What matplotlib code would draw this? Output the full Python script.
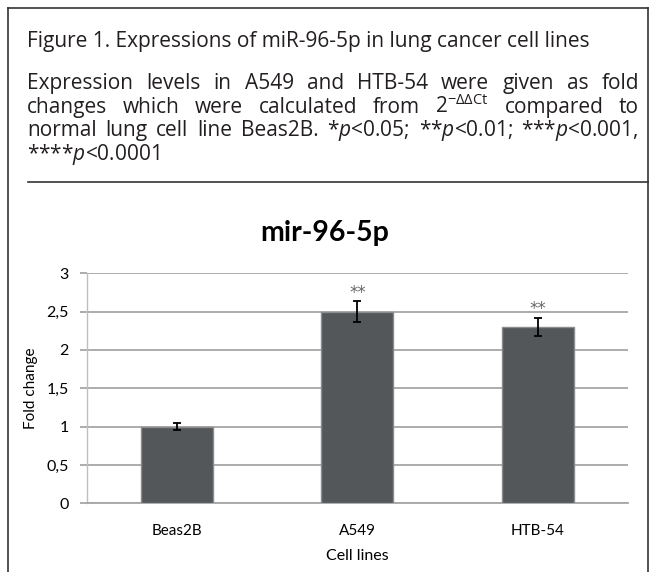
import matplotlib
matplotlib.use("Agg")
import matplotlib.pyplot as plt
from matplotlib.lines import Line2D

# data
cell_lines = ["Beas2B", "A549", "HTB-54"]
fold_change = [1.0, 2.5, 2.30]
fold_err = [0.045, 0.135, 0.12]
signif = ["", "**", "**"]

caption_title = "Figure 1. Expressions of miR-96-5p in lung cancer cell lines"
caption_lines = [
    "Expression levels in A549 and HTB-54 were given as fold",
    r"changes which were calculated from 2$^{\mathrm{-ΔΔCt}}$ compared to",
    r"normal lung cell line Beas2B. *$\mathit{p}$<0.05; **$\mathit{p}$<0.01; ***$\mathit{p}$<0.001,",
    r"****$\mathit{p}$<0.0001",
]

plt.rcParams["mathtext.fontset"] = "custom"
plt.rcParams["mathtext.rm"] = "Open Sans"
plt.rcParams["mathtext.it"] = "Open Sans:italic"

W, H = 649, 572
fig = plt.figure(figsize=(W / 100, H / 100), dpi=100)
renderer = fig.canvas.get_renderer()

def fx(px):
    return px / W

def fy(py):
    return 1 - py / H

txt_color = "#231f20"
cap_font = "Open Sans"
cap_size = 15.0

# outer frame and rule
fig.add_artist(Line2D([fx(8), fx(8)], [fy(8), 0], color="#333333", lw=1.2))
fig.add_artist(Line2D([fx(8), fx(648)], [fy(8), fy(8)], color="#333333", lw=1.2))
fig.add_artist(Line2D([fx(648), fx(648)], [fy(8), 0], color="#333333", lw=1.2))
fig.add_artist(Line2D([fx(28), 1], [fy(182), fy(182)], color="#333333", lw=1.2))

fig.text(fx(27), fy(47), caption_title, fontsize=cap_size, family=cap_font,
         color=txt_color, va="baseline", ha="left")

# justified caption lines (word by word, baseline aligned)
left_px, right_px = 27, 639
line_base = [89, 113, 136, 160]
space_w = (fig.text(0, 0, "a a", fontsize=cap_size, family=cap_font).get_window_extent(renderer).width
           - 2 * fig.text(0, 0, "a", fontsize=cap_size, family=cap_font).get_window_extent(renderer).width)
for a in fig.texts[-2:]:
    a.remove()
for i, line in enumerate(caption_lines):
    words = line.split(" ")
    arts = [fig.text(0, fy(line_base[i]), w, fontsize=cap_size, family=cap_font,
                     color=txt_color, va="baseline", ha="left") for w in words]
    widths = [a.get_window_extent(renderer).width for a in arts]
    if i == len(caption_lines) - 1 or len(words) == 1:
        gap = space_w
    else:
        gap = (right_px - left_px - sum(widths)) / (len(words) - 1)
    x = left_px
    for a, w in zip(arts, widths):
        a.set_x(fx(x))
        x += w + gap

# chart
chart_font = "Lato"
grid_c = "#a6a6a6"
ax = fig.add_axes([fx(86.7), fy(503.3), fx(628) - fx(86.7), fy(273.3) - fy(503.3)])
xpos = range(len(cell_lines))
ax.bar(xpos, fold_change, width=0.4, color="#53575a", edgecolor="#8c8c8c", linewidth=1.0, zorder=3)
ax.errorbar(xpos, fold_change, yerr=fold_err, fmt="none", ecolor="black",
            elinewidth=1.3, capsize=3.2, capthick=1.3, zorder=4)
for xi, v, e, s in zip(xpos, fold_change, fold_err, signif):
    if s:
        ax.text(xi, v + e + 0.11, s, ha="center", va="center", fontsize=12,
                family="DejaVu Sans", color="#666666")

ax.set_xlim(-0.5, 2.5)
ax.set_ylim(0, 3)
ax.set_yticks([0, 0.5, 1, 1.5, 2, 2.5, 3])
ax.set_yticklabels(["0", "0,5", "1", "1,5", "2", "2,5", "3"])
ax.set_xticks(list(xpos))
ax.set_xticklabels(cell_lines)
ax.yaxis.grid(True, color=grid_c, lw=1.3, zorder=0)
ax.set_axisbelow(True)
for sp in ["top", "right"]:
    ax.spines[sp].set_visible(False)
ax.spines["left"].set_color("#bfbfbf")
ax.spines["left"].set_linewidth(1.0)
ax.spines["bottom"].set_color(grid_c)
ax.spines["bottom"].set_linewidth(1.3)
ax.tick_params(axis="y", length=5, width=1.3, color=grid_c, pad=8,
               labelsize=11.5, labelcolor="black")
ax.tick_params(axis="x", length=0, pad=15, labelsize=11, labelcolor="black")
for lab in ax.get_xticklabels() + ax.get_yticklabels():
    lab.set_family(chart_font)
ax.set_xlabel("Cell lines", fontsize=11.5, family=chart_font, labelpad=8)
ax.set_ylabel("Fold change", fontsize=11, family=chart_font, labelpad=6)

fig.text(0.5, fy(233), "mir-96-5p", ha="center", va="center", fontsize=20.5,
         fontweight="bold", family=chart_font, color="black")

fig.savefig("out.png", dpi=100)
